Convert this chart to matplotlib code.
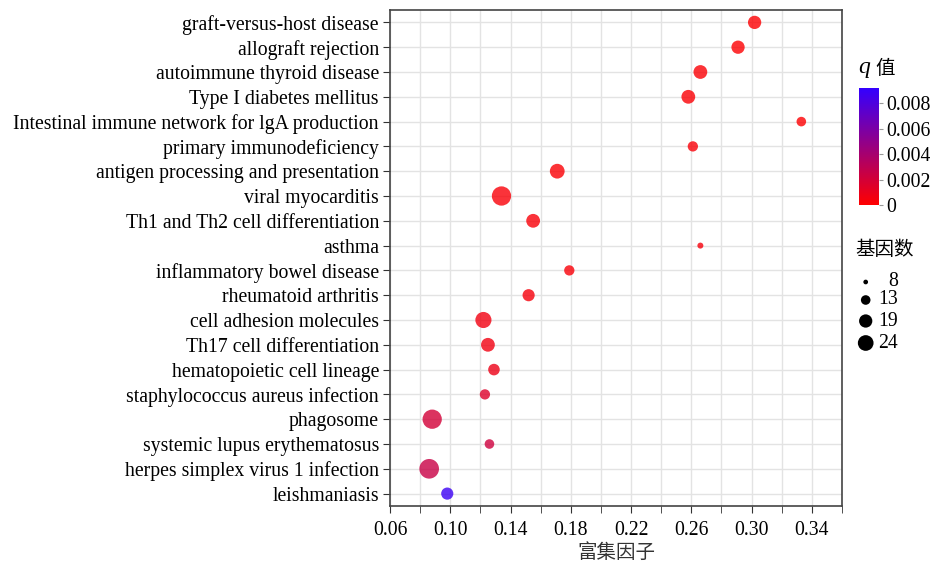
import matplotlib
matplotlib.use("Agg")
import matplotlib.pyplot as plt
import numpy as np
from matplotlib.colors import LinearSegmentedColormap, Normalize

pathways = [
    "graft-versus-host disease",
    "allograft rejection",
    "autoimmune thyroid disease",
    "Type I diabetes mellitus",
    "Intestinal immune network for lgA production",
    "primary immunodeficiency",
    "antigen processing and presentation",
    "viral myocarditis",
    "Th1 and Th2 cell differentiation",
    "asthma",
    "inflammatory bowel disease",
    "rheumatoid arthritis",
    "cell adhesion molecules",
    "Th17 cell differentiation",
    "hematopoietic cell lineage",
    "staphylococcus aureus infection",
    "phagosome",
    "systemic lupus erythematosus",
    "herpes simplex virus 1 infection",
    "leishmaniasis",
]
rich_factor = [0.302, 0.291, 0.266, 0.258, 0.333, 0.261, 0.171, 0.134, 0.155, 0.266,
               0.179, 0.152, 0.122, 0.125, 0.129, 0.123, 0.088, 0.126, 0.086, 0.098]
gene_count = [19, 19, 20, 20, 13, 14, 22, 33, 20, 9,
              14, 17, 25, 20, 16, 14, 33, 13, 34, 17]
q_value = [0.0001, 0.0001, 0.0002, 0.0002, 0.0001, 0.0003, 0.0002, 0.0003, 0.0003, 0.0004,
           0.0003, 0.0004, 0.0006, 0.0006, 0.0008, 0.0015, 0.0020, 0.0022, 0.0025, 0.0088]
x_ticks = [0.06, 0.10, 0.14, 0.18, 0.22, 0.26, 0.30, 0.34]
cbar_ticks = [0, 0.002, 0.004, 0.006, 0.008]
legend_sizes = [8, 13, 19, 24]

serif = ["Liberation Serif", "DejaVu Serif"]
cjk = ["Noto Sans CJK SC", "DejaVu Sans"]
plt.rcParams["font.family"] = serif
FS = 14.2

fig = plt.figure(figsize=(9.33, 5.64), dpi=100)
W, H = 933, 564
ax = fig.add_axes([390 / W, (H - 506) / H, (842 - 390) / W, (506 - 10) / H])

cmap = LinearSegmentedColormap.from_list("rb", ["#ff0000", "#3300ff"])
norm = Normalize(vmin=0, vmax=0.0092)

def size_of(n):
    # marker area (pt^2): diameter^2 in px grows linearly with gene count
    return 0.5184 * (14.0 * (n - 8) + 22.0)

ypos = np.arange(len(pathways))
ax.scatter(rich_factor, ypos, s=[size_of(n) for n in gene_count],
           c=q_value, cmap=cmap, norm=norm, alpha=0.8, edgecolors="none", zorder=3)

ax.set_ylim(len(pathways) - 0.5, -0.5)
ax.set_yticks(ypos)
ax.set_yticklabels(pathways, fontsize=FS)
ax.set_xlim(0.06, 0.36)
ax.set_xticks(np.arange(0.06, 0.3601, 0.02), minor=True)
ax.set_xticks(x_ticks)
ax.set_xticklabels([f"{v:.2f}" for v in x_ticks], fontsize=FS)
ax.tick_params(axis="x", which="both", direction="out", length=5, color="#333333", pad=6)
ax.tick_params(axis="y", direction="out", length=5, color="#333333", pad=3)
ax.grid(True, which="both", color="#e3e3e3", linewidth=1, zorder=0)
ax.set_axisbelow(True)
for sp in ax.spines.values():
    sp.set_color("#444444")
    sp.set_linewidth(1.2)
ax.set_xlabel("富集因子", fontsize=14, family=cjk, labelpad=1, color="#333333")

# colorbar
cax = fig.add_axes([859 / W, (H - 205) / H, 20 / W, (205 - 88) / H])
sm = plt.cm.ScalarMappable(norm=norm, cmap=cmap)
cb = fig.colorbar(sm, cax=cax)
cb.outline.set_visible(False)
cb.set_ticks(cbar_ticks)
cb.set_ticklabels(["0" if v == 0 else f"{v:.3f}" for v in cbar_ticks])
cax.tick_params(labelsize=FS, length=3, color="#999999", pad=2)
fig.text(858 / W, (H - 68) / H, "q", style="italic", family=serif, fontsize=17, va="center")
fig.text(875 / W, (H - 68) / H, "值", family=cjk, fontsize=14, va="center")

# size legend
fig.text(855 / W, (H - 249) / H, "基因数", family=cjk, fontsize=14, va="center")
lax = fig.add_axes([845 / W, (H - 360) / H, 88 / W, 95 / H])
lax.set_xlim(845, 933)
lax.set_ylim(360, 265)
lax.axis("off")
leg_y = [282, 300, 321, 343]
lax.scatter([865.7] * len(legend_sizes), leg_y, s=[size_of(n) for n in legend_sizes],
            color="black", edgecolors="none", clip_on=False)
for yy, n in zip(leg_y, legend_sizes):
    lax.text(898, yy, str(n), ha="right", va="center", fontsize=FS)

fig.savefig("out.png", dpi=100)
